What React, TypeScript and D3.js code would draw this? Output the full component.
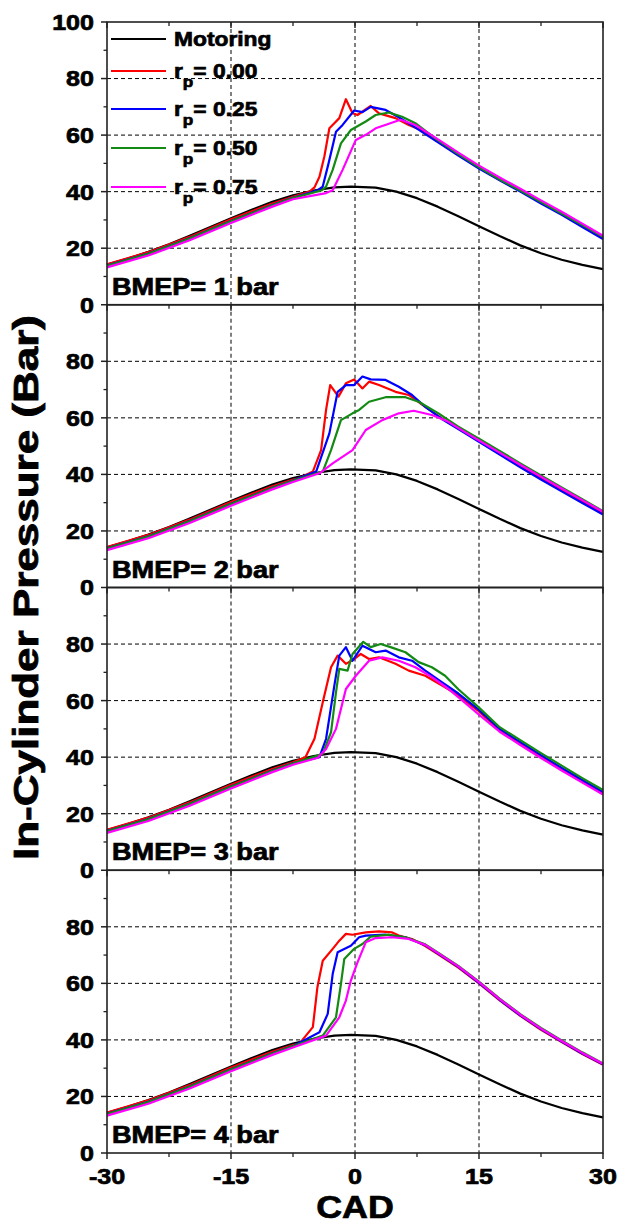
import React from "react";
import * as d3 from "d3";

// ---------- data ----------
const X_DOMAIN = [-30, 30];
const Y_DOMAIN = [0, 100];
const X_MAJOR = [-30, -15, 0, 15, 30];
const X_MINOR = [-22.5, -7.5, 7.5, 22.5];
const X_GRID = [-15, 0, 15];
const Y_GRID = [20, 40, 60, 80];
const Y_MAJOR = [0, 20, 40, 60, 80, 100];
const Y_MINOR = [10, 30, 50, 70, 90];
const PANELS = ["BMEP= 1 bar", "BMEP= 2 bar", "BMEP= 3 bar", "BMEP= 4 bar"];
const SERIES = ["Motoring", "0.00", "0.25", "0.50", "0.75"];
const COLORS = ["#000000", "#ff0000", "#0000ff", "#138a13", "#ff00ff"];

const MOTORING: number[][] = [
  [-30, 14.2], [-27.5, 16.3], [-25, 18.7], [-22.5, 21.4], [-20, 24.4], [-17.5, 27.5],
  [-15, 30.6], [-12.5, 33.6], [-10, 36.4], [-7.5, 38.7], [-5, 40.4], [-2.5, 41.5],
  [-0.5, 41.8], [2.5, 41.4], [5, 40.0], [7.5, 37.7], [10, 34.7], [12.5, 31.3],
  [15, 27.8], [17.5, 24.3], [20, 21.0], [22.5, 18.2], [25, 15.9], [27.5, 14.1], [30, 12.6],
];

// compression part before ignition (same for all loads)
const RED_LEFT: number[][] = [[-30, 14.3], [-25, 18.6], [-20, 24.0], [-15, 30.2], [-10, 35.8], [-7.5, 38.2]];
const BLUE_LEFT: number[][] = [[-30, 13.9], [-25, 18.1], [-20, 23.5], [-15, 29.6], [-10, 35.3], [-7.5, 37.8]];
const GREEN_LEFT: number[][] = [[-30, 13.8], [-25, 18.0], [-20, 23.4], [-15, 29.5], [-10, 35.2], [-7.5, 37.7]];
const MAG_LEFT: number[][] = [[-30, 13.2], [-25, 17.4], [-20, 22.8], [-15, 28.9], [-10, 34.7], [-7.5, 37.3]];

// BMEP = 1 bar
const B1_RED: number[][] = [[-5.5, 40.0], [-4.9, 41.5], [-4.3, 45.3], [-3.7, 52.5], [-3.1, 62.4], [-2.5, 64.2], [-1.9, 66.0], [-1.1, 72.7], [-0.3, 67.7], [0.3, 67.1], [1.9, 70.3], [2.9, 67.7], [4.9, 66.0], [6.5, 63.6], [8.5, 61.2], [9.7, 58.3], [12.5, 53.2], [15, 48.5], [17.5, 44.2], [20, 40.3], [22.5, 36.2], [25, 32.2], [27.5, 28.0], [30, 23.8]];
const B1_BLUE: number[][] = [[-4.5, 40.5], [-3.9, 41.8], [-3.2, 50.0], [-2.3, 61.2], [-1.5, 63.6], [-0.1, 68.7], [0.9, 68.1], [1.9, 70.0], [3.7, 68.9], [5.3, 66.3], [7.5, 62.3], [10, 57.5], [12.5, 52.8], [15, 48.2], [17.5, 44.0], [20, 40.0], [22.5, 35.8], [25, 31.8], [27.5, 27.5], [30, 23.2]];
const B1_GREEN: number[][] = [[-4.0, 40.5], [-3.5, 41.8], [-2.7, 47.7], [-1.7, 57.1], [-0.5, 61.8], [1.3, 64.8], [2.5, 67.1], [4.1, 68.0], [5.7, 66.5], [7.3, 64.2], [10, 58.2], [12.5, 53.3], [15, 48.6], [17.5, 44.3], [20, 40.4], [22.5, 36.3], [25, 32.3], [27.5, 28.2], [30, 24.0]];
const B1_MAG: number[][] = [[-3.5, 39.5], [-2.7, 40.5], [-1.5, 47.7], [0.1, 58.3], [1.3, 60.1], [2.5, 62.4], [4.1, 64.0], [5.5, 65.4], [7.3, 63.6], [10, 58.6], [12.5, 53.8], [15, 49.2], [17.5, 45.0], [20, 41.0], [22.5, 36.9], [25, 32.9], [27.5, 28.7], [30, 24.4]];

// BMEP = 2 bar
const B2_RED: number[][] = [[-6.75, 38.6], [-5.1, 41.0], [-4.1, 48.6], [-3.5, 62.8], [-3.0, 71.6], [-2.0, 67.5], [-1.1, 72.2], [-0.1, 73.6], [0.9, 70.4], [1.7, 72.8], [2.9, 71.6], [4.9, 69.2], [6.5, 68.1], [8.5, 63.9], [10.5, 59.8], [12.5, 56.2], [15, 51.8], [17.5, 47.3], [20, 42.9], [22.5, 38.6], [25, 34.5], [27.5, 30.4], [30, 26.4]];
const B2_BLUE: number[][] = [[-4.7, 41.0], [-3.1, 54.5], [-2.1, 69.2], [-1.1, 71.6], [-0.1, 71.6], [0.9, 74.6], [1.9, 73.6], [3.7, 73.4], [5.3, 71.0], [6.9, 68.1], [8.5, 63.9], [10.5, 59.6], [12.5, 56.0], [15, 51.5], [17.5, 47.0], [20, 42.5], [22.5, 38.2], [25, 34.0], [27.5, 29.9], [30, 25.8]];
const B2_GREEN: number[][] = [[-3.9, 41.0], [-2.9, 48.6], [-1.7, 59.2], [-0.3, 61.6], [0.5, 62.8], [1.7, 65.7], [3.7, 67.3], [6.1, 67.3], [7.7, 65.7], [10.1, 61.6], [12.5, 56.9], [15, 52.6], [17.5, 48.3], [20, 43.9], [22.5, 39.6], [25, 35.4], [27.5, 31.2], [30, 27.0]];
const B2_MAG: number[][] = [[-4.3, 40.4], [-2.7, 43.9], [-0.3, 48.6], [1.3, 55.7], [3.3, 59.2], [5.3, 61.6], [7.1, 62.5], [9.3, 61.0], [11.3, 58.6], [13, 55.5], [15, 52.0], [17.5, 47.7], [20, 43.4], [22.5, 39.2], [25, 35.0], [27.5, 30.9], [30, 26.8]];

// BMEP = 3 bar
const B3_RED: number[][] = [[-6.0, 40.0], [-4.9, 46.5], [-3.9, 59.4], [-2.9, 71.8], [-2.1, 75.9], [-1.1, 73.0], [-0.1, 74.7], [0.7, 76.5], [1.7, 74.7], [2.9, 75.3], [4.9, 73.0], [6.5, 70.6], [8.5, 68.8], [10.9, 64.7], [12.5, 61.8], [15, 56.2], [17.5, 49.5], [20, 44.8], [22.5, 40.2], [25, 35.8], [27.5, 31.5], [30, 27.3]];
const B3_BLUE: number[][] = [[-4.3, 40.0], [-3.5, 46.5], [-2.5, 65.3], [-1.9, 75.9], [-1.1, 78.9], [-0.3, 74.1], [0.9, 79.4], [2.5, 77.1], [3.7, 77.7], [5.3, 75.3], [6.9, 74.1], [8.5, 70.6], [10.5, 66.5], [12.5, 62.5], [15, 56.7], [17.5, 50.0], [20, 45.3], [22.5, 40.7], [25, 36.2], [27.5, 31.9], [30, 27.7]];
const B3_GREEN: number[][] = [[-3.9, 41.2], [-2.9, 48.8], [-2.3, 62.9], [-1.9, 71.2], [-0.9, 70.6], [-0.3, 76.5], [1.0, 80.8], [1.9, 78.9], [3.1, 80.0], [4.3, 78.9], [6.1, 77.1], [7.7, 73.6], [9.3, 71.8], [10.9, 68.8], [12.5, 64.0], [15, 57.5], [17.5, 50.6], [20, 46.0], [22.5, 41.4], [25, 37.0], [27.5, 32.6], [30, 28.4]];
const B3_MAG: number[][] = [[-4.5, 39.8], [-3.5, 42.9], [-2.3, 50.0], [-1.1, 64.1], [0.1, 68.8], [1.7, 74.1], [3.3, 75.3], [5.3, 74.1], [7.3, 71.8], [9.3, 68.3], [11.3, 64.1], [13, 60.0], [15, 55.0], [17.5, 49.0], [20, 44.3], [22.5, 39.7], [25, 35.3], [27.5, 31.0], [30, 26.8]];

// BMEP = 4 bar
const B4_RED: number[][] = [[-6.75, 38.6], [-5.1, 44.5], [-4.55, 58.6], [-3.9, 68.0], [-2.7, 72.2], [-1.9, 75.1], [-1.1, 77.5], [-0.3, 77.2], [1.3, 78.0], [2.9, 78.4], [4.5, 78.0], [5.3, 76.9], [6.9, 75.7], [8.5, 73.2], [10.1, 70.2], [12.5, 65.6], [15, 60.0], [17.5, 54.0], [20, 48.5], [22.5, 43.6], [25, 39.2], [27.5, 35.0], [30, 31.2]];
const B4_BLUE: number[][] = [[-4.3, 42.7], [-3.3, 49.2], [-2.7, 63.3], [-2.1, 71.0], [-0.5, 73.3], [0.5, 76.3], [1.3, 76.9], [3.7, 77.2], [6.1, 76.3], [8.5, 73.5], [10.1, 70.4], [12.5, 65.8], [15, 60.2], [17.5, 54.2], [20, 48.7], [22.5, 43.8], [25, 39.4], [27.5, 35.2], [30, 31.4]];
const B4_GREEN: number[][] = [[-3.9, 41.5], [-2.3, 48.0], [-1.7, 59.8], [-1.3, 68.6], [-0.1, 72.2], [0.9, 73.9], [1.9, 76.5], [4.1, 77.2], [6.1, 76.3], [8.5, 73.8], [10.1, 70.8], [12.5, 66.2], [15, 60.6], [17.5, 54.6], [20, 49.1], [22.5, 44.2], [25, 39.8], [27.5, 35.6], [30, 31.7]];
const B4_MAG: number[][] = [[-3.5, 41.5], [-1.9, 48.0], [-1.1, 53.9], [-0.5, 61.0], [0.3, 67.4], [1.3, 74.5], [2.5, 76.0], [4.5, 76.3], [6.5, 75.7], [8.5, 73.6], [10.1, 70.6], [12.5, 66.0], [15, 60.4], [17.5, 54.4], [20, 48.9], [22.5, 44.0], [25, 39.6], [27.5, 35.4], [30, 31.6]];

const PANEL_DATA: number[][][][] = [
  [MOTORING, RED_LEFT.concat(B1_RED), BLUE_LEFT.concat(B1_BLUE), GREEN_LEFT.concat(B1_GREEN), MAG_LEFT.concat(B1_MAG)],
  [MOTORING, RED_LEFT.concat(B2_RED), BLUE_LEFT.concat(B2_BLUE), GREEN_LEFT.concat(B2_GREEN), MAG_LEFT.concat(B2_MAG)],
  [MOTORING, RED_LEFT.concat(B3_RED), BLUE_LEFT.concat(B3_BLUE), GREEN_LEFT.concat(B3_GREEN), MAG_LEFT.concat(B3_MAG)],
  [MOTORING, RED_LEFT.concat(B4_RED), BLUE_LEFT.concat(B4_BLUE), GREEN_LEFT.concat(B4_GREEN), MAG_LEFT.concat(B4_MAG)],
];

// ---------- layout ----------
const W = 620;
const H = 1224;
const LEFT = 107;
const RIGHT = 603;
const TOP = 22;
const PANEL_H = 282.75;
const FONT = "'Liberation Sans', Arial, sans-serif";
const SX = 1.14;
const TSTROKE = 0.7;

function T(props: any) {
  const { x, y, size, anchor = "start", children, sx = SX, dy } = props;
  return (
    <text
      transform={`translate(${x},${y}) scale(${sx},1)`}
      textAnchor={anchor}
      fontSize={size}
      fontWeight="bold"
      fontFamily={FONT}
      dy={dy}
      fill="#000"
      stroke="#000"
      strokeWidth={TSTROKE}
    >
      {children}
    </text>
  );
}

export default function App() {
  const x = d3.scaleLinear().domain(X_DOMAIN).range([LEFT, RIGHT]);
  const panels = PANELS.map((label, i) => {
    const top = TOP + i * PANEL_H;
    const bottom = top + PANEL_H;
    const y = d3.scaleLinear().domain(Y_DOMAIN).range([bottom, top]);
    const line = d3
      .line<number[]>()
      .x((d) => x(d[0]))
      .y((d) => y(d[1]));
    return { label, top, bottom, y, line, i };
  });

  const boundaries = [TOP, ...panels.map((p) => p.bottom)];

  return (
    <svg
      width={W}
      height={H}
      style={{ position: "absolute", left: 0, top: 0, background: "#fff" }}
    >
      <rect x={0} y={0} width={W} height={H} fill="#fff" />
      {panels.map((p) => (
        <g key={p.label}>
          {/* grid */}
          {Y_GRID.map((v) => (
            <line key={"gy" + v} x1={LEFT} x2={RIGHT} y1={p.y(v)} y2={p.y(v)} stroke="#000" strokeWidth={1} strokeDasharray="4,3" />
          ))}
          {X_GRID.map((v) => (
            <line key={"gx" + v} x1={x(v)} x2={x(v)} y1={p.top} y2={p.bottom} stroke="#000" strokeWidth={1} strokeDasharray="4,3" />
          ))}
          {/* curves */}
          {PANEL_DATA[p.i].map((s, k) => (
            <path key={"s" + k} d={p.line(s) || ""} fill="none" stroke={COLORS[k]} strokeWidth={2.2} strokeLinejoin="round" />
          ))}
          {/* frame */}
          <rect x={LEFT} y={p.top} width={RIGHT - LEFT} height={PANEL_H} fill="none" stroke="#222" strokeWidth={1.6} />
          {/* y ticks */}
          {Y_MAJOR.filter((v) => p.i === 0 || v < 100).map((v) => (
            <g key={"yt" + v}>
              <line x1={LEFT - 6} x2={LEFT} y1={p.y(v)} y2={p.y(v)} stroke="#222" strokeWidth={1.5} />
              <T x={94} y={p.y(v)} size={22} anchor="end" dy="0.36em">{String(v)}</T>
            </g>
          ))}
          {Y_MINOR.map((v) => (
            <line key={"ym" + v} x1={LEFT - 3.5} x2={LEFT} y1={p.y(v)} y2={p.y(v)} stroke="#222" strokeWidth={1.3} />
          ))}
          {/* panel label */}
          <T x={112} y={p.bottom - 10} size={23} sx={1.18}>{p.label}</T>
        </g>
      ))}
      {/* x ticks on every panel boundary */}
      {boundaries.map((b, j) => (
        <g key={"xb" + j}>
          {X_MAJOR.map((v) => (
            <line key={"xM" + v} x1={x(v)} x2={x(v)} y1={b} y2={b + 6} stroke="#222" strokeWidth={1.5} />
          ))}
          {X_MINOR.map((v) => (
            <line key={"xm" + v} x1={x(v)} x2={x(v)} y1={b} y2={b + 4} stroke="#222" strokeWidth={1.3} />
          ))}
        </g>
      ))}
      {/* x tick labels */}
      {X_MAJOR.map((v) => (
        <T key={"xl" + v} x={x(v)} y={1184} size={22} anchor="middle">{String(v)}</T>
      ))}
      {/* axis titles */}
      <T x={(LEFT + RIGHT) / 2} y={1218} size={32} anchor="middle" sx={1.12}>CAD</T>
      <text
        transform={`translate(38,${TOP + 2 * PANEL_H}) rotate(-90)`}
        textAnchor="middle"
        fontSize={35}
        fontWeight="bold"
        fontFamily={FONT}
        textLength={545}
        lengthAdjust="spacingAndGlyphs"
        stroke="#000"
        strokeWidth={0.8}
      >
        In-Cylinder Pressure (Bar)
      </text>
      {/* legend */}
      {SERIES.map((s, k) => {
        const ly = [39, 71, 109, 148, 187][k];
        return (
          <g key={"lg" + s}>
            <line x1={111} x2={166} y1={ly} y2={ly} stroke={COLORS[k]} strokeWidth={2.2} />
            {k === 0 ? (
              <T x={174} y={ly + 7} size={20}>{s}</T>
            ) : (
              <text
                transform={`translate(174,${ly + 7}) scale(${SX},1)`}
                fontSize={20}
                fontWeight="bold"
                fontFamily={FONT}
                stroke="#000"
                strokeWidth={TSTROKE}
              >
                r
                <tspan fontSize={15} dy={9}>p</tspan>
                <tspan dy={-9}>= {s}</tspan>
              </text>
            )}
          </g>
        );
      })}
    </svg>
  );
}
